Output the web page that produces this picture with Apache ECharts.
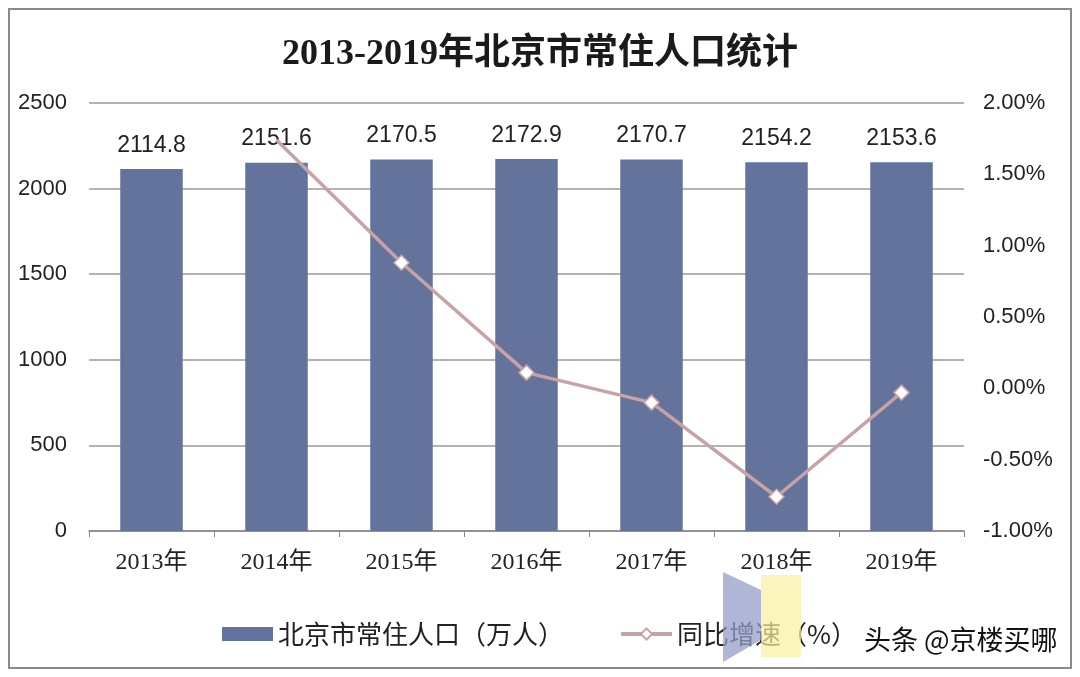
<!DOCTYPE html>
<html>
<head>
<meta charset="utf-8">
<script src="https://cdn.jsdelivr.net/npm/echarts@6/dist/echarts.min.js"></script>
<style>html,body{margin:0;padding:0;background:#fff;}#c{width:1080px;height:677px;}</style>
</head>
<body>
<div id="c"></div>
<script>
const categories = ['2013年','2014年','2015年','2016年','2017年','2018年','2019年'];
const population = [2114.8, 2151.6, 2170.5, 2172.9, 2170.7, 2154.2, 2153.6];
const growth = [null, 1.74, 0.88, 0.11, -0.10, -0.76, -0.03];
const leftTicks = {min: 0, max: 2500, interval: 500};
const rightTicks = {min: -1, max: 2, interval: 0.5};
const title = '2013-2019年北京市常住人口统计';
const seriesNames = ['北京市常住人口（万人）', '同比增速（%）'];
const watermark = '头条 @京楼买哪';

const chart = echarts.init(document.getElementById('c'));
chart.setOption({
  backgroundColor: '#fff',
  animation: false,
  title: {
    text: title, left: 'center', top: 32,
    textStyle: {fontFamily: 'Liberation Serif, "Noto Sans CJK SC"', fontSize: 36, fontWeight: 'bold', color: '#1a1a1a'}
  },
  grid: {left: 89, right: 116, top: 103, bottom: 146},
  legend: {
    left: 217, top: 616, itemWidth: 51, itemHeight: 14, itemGap: 55,
    textStyle: {fontFamily: '"Noto Sans CJK SC"', fontSize: 26, color: '#222', padding: [0,0,0,0]},
    data: [{name: seriesNames[0], icon: 'rect'},
           {name: seriesNames[1], lineStyle: {width: 4}}]
  },
  xAxis: {
    type: 'category', data: categories,
    axisLine: {lineStyle: {color: '#888', width: 1.5}},
    axisTick: {show: true, length: 6, lineStyle: {color: '#888'}},
    axisLabel: {margin: 20, fontFamily: 'Liberation Serif, "Noto Sans CJK SC"', fontSize: 24, color: '#222'}
  },
  yAxis: [{
    type: 'value', min: leftTicks.min, max: leftTicks.max, interval: leftTicks.interval,
    axisLine: {show: false}, axisTick: {show: false},
    splitLine: {lineStyle: {color: '#9a9a9a', width: 1.5}},
    axisLabel: {margin: 22, fontFamily: 'Liberation Sans, Arial', fontSize: 22, color: '#222',
      formatter: v => String(v)}
  }, {
    type: 'value', min: rightTicks.min, max: rightTicks.max, interval: rightTicks.interval,
    axisLine: {show: false}, axisTick: {show: false}, splitLine: {show: false},
    axisLabel: {margin: 19, fontFamily: 'Liberation Sans, Arial', fontSize: 22, color: '#222',
      formatter: v => v.toFixed(2) + '%'}
  }],
  series: [{
    name: seriesNames[0], type: 'bar', data: population, barWidth: '50%',
    itemStyle: {color: '#64739b'},
    label: {show: true, position: 'top', distance: 12, fontFamily: 'Liberation Sans, Arial', fontSize: 23, color: '#222',
      formatter: p => p.value.toFixed(1)}
  }, {
    name: seriesNames[1], type: 'line', yAxisIndex: 1,
    data: growth.map((v, i) => (i === 1 ? {value: v, symbol: 'none'} : v)),
    symbol: 'diamond', symbolSize: 15,
    lineStyle: {color: '#c9a2a5', width: 3.5},
    itemStyle: {color: '#fff', borderColor: '#c9a2a5', borderWidth: 1.5},
    z: 3
  }],
  graphic: [
    {type: 'rect', shape: {x: 9, y: 9, width: 1062, height: 659}, style: {fill: 'none', stroke: '#8a8a8a', lineWidth: 2}, z: 100},
    {type: 'polygon', shape: {points: [[723, 572], [761, 590], [761, 640], [723, 662]]}, style: {fill: 'rgba(150,158,200,0.75)'}, z: 100},
    {type: 'rect', shape: {x: 761, y: 575, width: 40, height: 82}, style: {fill: 'rgba(250,240,160,0.7)'}, z: 100},
    {type: 'text', left: 864, top: 626, style: {text: watermark, fontFamily: '"Noto Sans CJK SC"', fontSize: 27, fill: '#111'}, z: 101}
  ]
});
</script>
</body>
</html>
